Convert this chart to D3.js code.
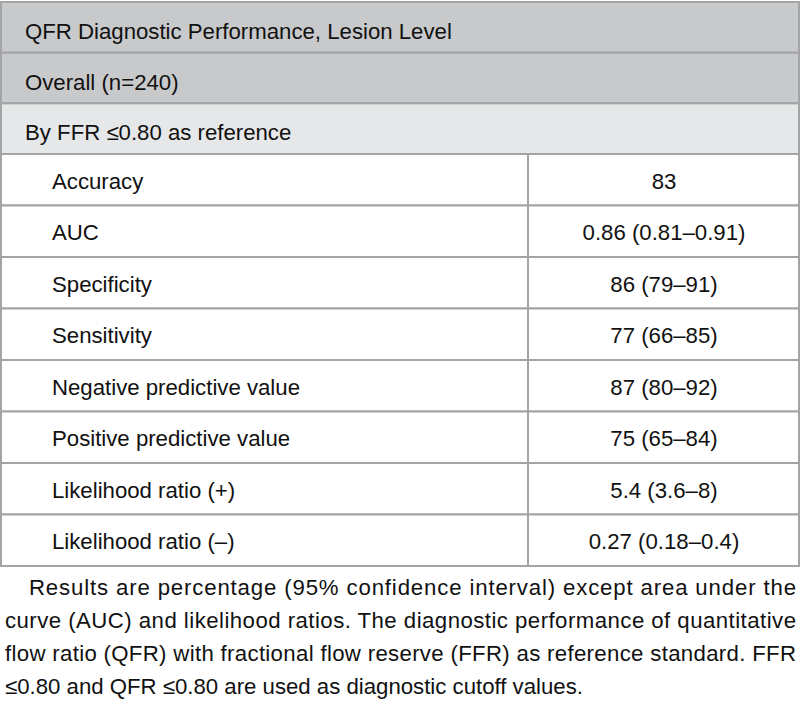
<!DOCTYPE html>
<html><head><meta charset="utf-8">
<script src="https://cdn.jsdelivr.net/npm/d3@7"></script>
<style>body{margin:0;background:#fff}svg{display:block}text{font-family:"Liberation Sans",Arial,sans-serif;fill:#111}</style>
</head><body><svg id="c" width="800" height="709"></svg>
<script>
const headerRows = ["QFR Diagnostic Performance, Lesion Level", "Overall (n=240)", "By FFR \u22640.80 as reference"];
const headerFills = ["#c8c9cb", "#c8c9cb", "#e6e7e8"];
const measures = ["Accuracy", "AUC", "Specificity", "Sensitivity", "Negative predictive value", "Positive predictive value", "Likelihood ratio (+)", "Likelihood ratio (\u2013)"];
const values = ["83", "0.86 (0.81\u20130.91)", "86 (79\u201391)", "77 (66\u201385)", "87 (80\u201392)", "75 (65\u201384)", "5.4 (3.6\u20138)", "0.27 (0.18\u20130.4)"];
const captionLines = [
  "Results are percentage (95% confidence interval) except area under the",
  "curve (AUC) and likelihood ratios. The diagnostic performance of quantitative",
  "flow ratio (QFR) with fractional flow reserve (FFR) as reference standard. FFR",
  "\u22640.80 and QFR \u22640.80 are used as diagnostic cutoff values."
];

const svg = d3.select("#c");
const L = 1, R = 799, divX = 528;
const fs = 22;
const border = "#a3a4a6";

const probe = svg.append("text").attr("font-size", fs).text(headerRows[0]);
const sx = 427 / probe.node().getComputedTextLength();
probe.remove();

function place(sel, x, y, anchor) {
  sel.attr("transform", (d,i) => `translate(${x(d,i)},${y(d,i)}) scale(${sx},1)`)
     .attr("text-anchor", anchor || "start").attr("font-size", fs);
}

const yHead = d3.scaleBand().domain(d3.range(headerRows.length)).range([2, 154]);
const yBody = d3.scaleBand().domain(measures).range([154, 566]);

const hg = svg.append("g");
hg.selectAll("rect").data(headerRows).join("rect")
  .attr("x", L).attr("y", (d,i) => yHead(i)).attr("width", R - L).attr("height", yHead.bandwidth())
  .attr("fill", (d,i) => headerFills[i]).attr("stroke", border).attr("stroke-width", 2);
place(hg.selectAll("text").data(headerRows).join("text").text(d => d),
  () => 25, (d,i) => yHead(i) + 37);

const bg = svg.append("g");
const rows = bg.selectAll("g").data(measures).join("g");
rows.append("rect").attr("x", L).attr("y", d => yBody(d)).attr("width", divX - L).attr("height", yBody.bandwidth())
  .attr("fill", "#fff").attr("stroke", border).attr("stroke-width", 2);
rows.append("rect").attr("x", divX).attr("y", d => yBody(d)).attr("width", R - divX).attr("height", yBody.bandwidth())
  .attr("fill", "#fff").attr("stroke", border).attr("stroke-width", 2);
place(rows.append("text").text(d => d), () => 52, d => yBody(d) + 34.5);
place(rows.append("text").text((d,i) => values[i]), () => 664, d => yBody(d) + 34.5, "middle");

const cg = svg.append("g");
const yCap = d3.scalePoint().domain(d3.range(captionLines.length)).range([595, 694]);
const capX0 = i => i === 0 ? 29 : 5;
cg.selectAll("text").data(captionLines).join("text")
  .attr("transform", (d,i) => `translate(${capX0(i)},${yCap(i)}) scale(${sx},1)`)
  .attr("font-size", fs)
  .each(function(d,i){
    const t = d3.select(this).text(d);
    if (i < captionLines.length - 1) {
      t.attr("textLength", (796 - capX0(i)) / sx).attr("lengthAdjust", "spacing");
    }
  });
</script></body></html>
